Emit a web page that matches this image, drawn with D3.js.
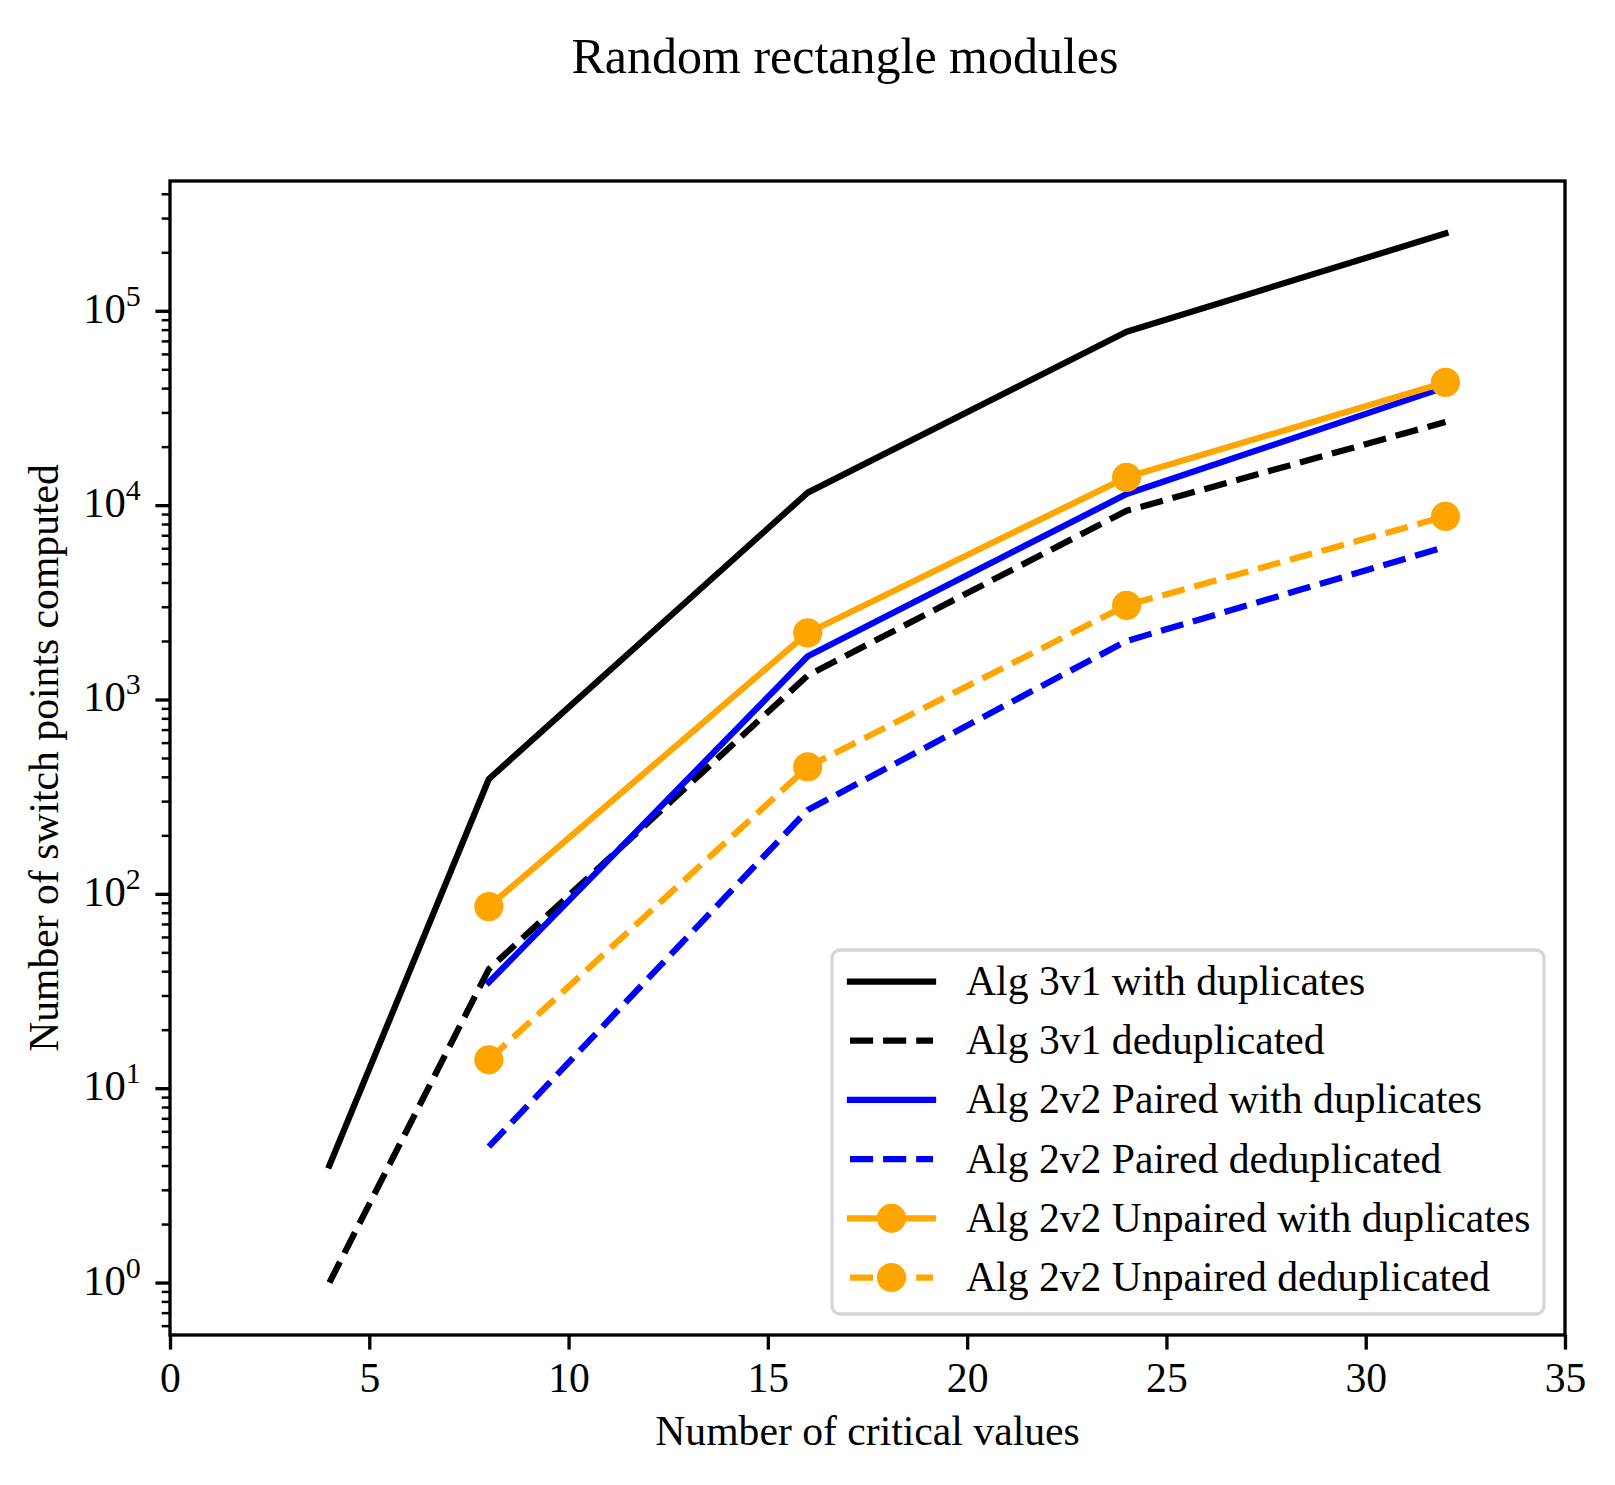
<!DOCTYPE html>
<html>
<head>
<meta charset="utf-8">
<script src="https://cdn.jsdelivr.net/npm/d3@7"></script>
<style>
  body { margin: 0; background: #fff; }
  svg { display: block; font-family: "Liberation Serif", "Times New Roman", serif; }
</style>
</head>
<body>
<div id="chart"></div>
<script>
// data
var criticalValues = [4, 8, 16, 24, 32];
var alg3v1Dup     = [4, 390, 11600, 78000, 250000];
var alg3v1Dedup   = [1, 41, 1330, 9350, 26800];
var paired2v2Dup  = [null, 35, 1670, 11400, 40500];
var paired2v2Dedup = [null, 5, 270, 2000, 6100];
var unpaired2v2Dup = [null, 86, 2200, 13900, 42800];
var unpaired2v2Dedup = [null, 14, 450, 3050, 8750];

var seriesNames = [
  "Alg 3v1 with duplicates",
  "Alg 3v1 deduplicated",
  "Alg 2v2 Paired with duplicates",
  "Alg 2v2 Paired deduplicated",
  "Alg 2v2 Unpaired with duplicates",
  "Alg 2v2 Unpaired deduplicated"
];
var xTicks = [0, 5, 10, 15, 20, 25, 30, 35];
var yMajor = [1, 10, 100, 1000, 10000, 100000];

var W = 1615, H = 1485;
var fs = 41.67;          // 10pt at 300 dpi
var lw = 6.25;           // 1.5pt
var dash = [23.1, 10];

// plot box (note: "top" is reserved on window, so prefix these)
var axL = 170, axR = 1565, axT = 181, axB = 1335;

var series = [
  { name: seriesNames[0], values: alg3v1Dup, color: "#000000", dashed: false, marker: false },
  { name: seriesNames[1], values: alg3v1Dedup, color: "#000000", dashed: true, marker: false },
  { name: seriesNames[2], values: paired2v2Dup, color: "#0000ff", dashed: false, marker: false },
  { name: seriesNames[3], values: paired2v2Dedup, color: "#0000ff", dashed: true, marker: false },
  { name: seriesNames[4], values: unpaired2v2Dup, color: "#ffa500", dashed: false, marker: true },
  { name: seriesNames[5], values: unpaired2v2Dedup, color: "#ffa500", dashed: true, marker: true }
];

var svg = d3.select("#chart").append("svg")
  .attr("width", W).attr("height", H);

var x = d3.scaleLinear().domain([0, 35]).range([axL, axR]);

// log limits with the usual 5% margin
var all = [];
series.forEach(function(s) { s.values.forEach(function(v) { if (v != null) all.push(Math.log10(v)); }); });
var lo = d3.min(all), hi = d3.max(all), pad = 0.05 * (hi - lo);
var y = d3.scaleLog().domain([Math.pow(10, lo - pad), Math.pow(10, hi + pad)]).range([axB, axT]);

// minor y ticks
var minors = y.ticks().filter(function(v) {
  var l = Math.log10(v);
  return Math.abs(l - Math.round(l)) > 1e-6;
});

var gMinor = svg.append("g").attr("transform", "translate(" + axL + ",0)")
  .call(d3.axisLeft(y).tickValues(minors).tickSize(8.3).tickFormat(""));
gMinor.select(".domain").remove();
gMinor.selectAll("line").attr("stroke", "#000").attr("stroke-width", 2.5);

var gMajor = svg.append("g").attr("transform", "translate(" + axL + ",0)")
  .call(d3.axisLeft(y).tickValues(yMajor).tickSize(14.6).tickFormat(""));
gMajor.select(".domain").remove();
gMajor.selectAll("line").attr("stroke", "#000").attr("stroke-width", 3.33);

yMajor.forEach(function(v) {
  var t = svg.append("text")
    .attr("x", axL - 14.6 - 14.6)
    .attr("y", y(v) + 12)
    .attr("text-anchor", "end")
    .attr("font-size", fs + 1)
    .attr("fill", "#000");
  t.append("tspan").text("10");
  t.append("tspan").attr("font-size", fs * 0.72).attr("dy", -17).text(Math.round(Math.log10(v)));
});

var gx = svg.append("g").attr("transform", "translate(0," + axB + ")")
  .call(d3.axisBottom(x).tickValues(xTicks).tickSize(14.6).tickPadding(14.6));
gx.select(".domain").remove();
gx.selectAll("line").attr("stroke", "#000").attr("stroke-width", 3.33);
gx.selectAll("text").attr("font-size", fs).attr("fill", "#000")
  .attr("font-family", "Liberation Serif, serif").attr("dy", null).attr("y", 1392 - axB);

// lines
var line = d3.line()
  .defined(function(d) { return d.v != null; })
  .x(function(d) { return x(d.x); })
  .y(function(d) { return y(d.v); });

series.forEach(function(s) {
  var pts = s.values.map(function(v, i) { return { x: criticalValues[i], v: v }; });
  var p = svg.append("path")
    .datum(pts)
    .attr("d", line)
    .attr("fill", "none")
    .attr("stroke", s.color)
    .attr("stroke-width", lw)
    .attr("stroke-linejoin", "round")
    .attr("stroke-linecap", s.dashed ? "butt" : "square");
  if (s.dashed) p.attr("stroke-dasharray", dash.join(","));
  if (s.marker) {
    svg.append("g").selectAll("circle")
      .data(pts.filter(function(d) { return d.v != null; }))
      .enter().append("circle")
      .attr("cx", function(d) { return x(d.x); })
      .attr("cy", function(d) { return y(d.v); })
      .attr("r", 14.6)
      .attr("fill", s.color);
  }
});

// frame
svg.append("rect")
  .attr("x", axL).attr("y", axT)
  .attr("width", axR - axL).attr("height", axB - axT)
  .attr("fill", "none").attr("stroke", "#000").attr("stroke-width", 3.33);

// legend
var legX = 832, legY = 950, legW = 712, legH = 364;
var legend = svg.append("g");
legend.append("rect")
  .attr("x", legX).attr("y", legY).attr("width", legW).attr("height", legH)
  .attr("rx", 8).attr("ry", 8)
  .attr("fill", "#fff").attr("fill-opacity", 0.8)
  .attr("stroke", "#d6d6d6").attr("stroke-width", 3.33);

series.forEach(function(s, i) {
  var cy = 981.5 + i * 59.2;
  var row = legend.append("g");
  var h = row.append("line")
    .attr("x1", 850).attr("x2", 933)
    .attr("y1", cy).attr("y2", cy)
    .attr("stroke", s.color).attr("stroke-width", lw)
    .attr("stroke-linecap", s.dashed ? "butt" : "square");
  if (s.dashed) h.attr("stroke-dasharray", dash.join(","));
  if (s.marker) {
    row.append("circle").attr("cx", 891.5).attr("cy", cy).attr("r", 14.6).attr("fill", s.color);
  }
  row.append("text")
    .attr("x", 966).attr("y", cy + 13.5)
    .attr("font-size", fs).attr("fill", "#000")
    .text(s.name);
});

// labels
svg.append("text")
  .attr("x", (axL + axR) / 2).attr("y", 1445)
  .attr("text-anchor", "middle").attr("font-size", fs)
  .text("Number of critical values");

svg.append("text")
  .attr("transform", "translate(58," + ((axT + axB) / 2) + ") rotate(-90)")
  .attr("text-anchor", "middle").attr("font-size", fs)
  .text("Number of switch points computed");

svg.append("text")
  .attr("x", 845).attr("y", 73)
  .attr("text-anchor", "middle").attr("font-size", 50)
  .text("Random rectangle modules");
</script>
</body>
</html>
